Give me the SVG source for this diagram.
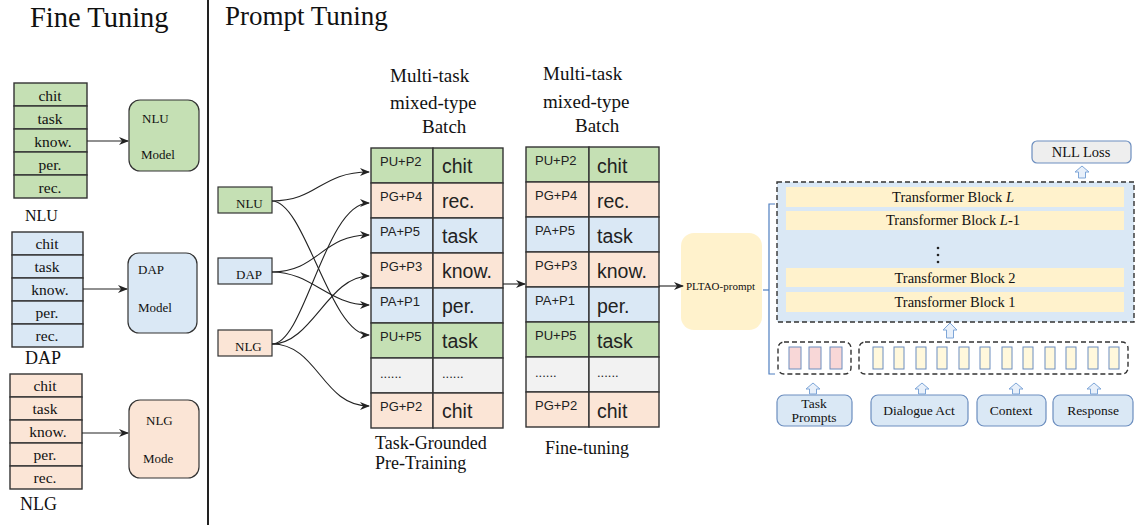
<svg xmlns="http://www.w3.org/2000/svg" width="1135" height="525" viewBox="0 0 1135 525">
<style>
.serif{font-family:"Liberation Serif","Times New Roman",serif;fill:#111}
.sans{font-family:"Liberation Sans",Arial,sans-serif;fill:#222}
.title{font-size:27px}
.lt{font-size:15.5px;text-anchor:middle}
.cell{stroke:#333;stroke-width:1.4}
.g{fill:#c5e0b4}.o{fill:#fbe5d6}.b{fill:#dae8f5}.y{fill:#f2f2f2}
.model{stroke:#333;stroke-width:1.2}
.conn{fill:none;stroke:#222;stroke-width:1.1}
.tb{fill:#fff2cc}
.tbt{font-size:14.5px;text-anchor:middle}
.ua{fill:#e8f0fa;stroke:#7ea6d8;stroke-width:1}
.inbox{fill:#dae8f5;stroke:#6c8ebf;stroke-width:1.2}
.tok1{fill:#f8d7d7;stroke:#6c8ebf;stroke-width:1}
.tok2{fill:#fff8dc;stroke:#6c8ebf;stroke-width:1}
.dash{fill:none;stroke:#333;stroke-width:1.4;stroke-dasharray:5,3}
.lc{font-size:13px}
.rc{font-size:19.5px}
.ib{font-size:13.5px;text-anchor:middle}
</style>
<defs>
<marker id="ah" markerWidth="10" markerHeight="8" refX="9" refY="4" orient="auto" markerUnits="userSpaceOnUse">
<path d="M0,0 L10,4 L0,8 L3,4 z" fill="#222"/>
</marker>
</defs>
<rect width="1135" height="525" fill="#fff"/>
<line x1="208" y1="0" x2="208" y2="525" stroke="#222" stroke-width="2"/>
<text class="serif title" x="30" y="27" font-size="28" style="font-size:28.5px">Fine Tuning</text>
<text class="serif title" x="225" y="25">Prompt Tuning</text>

<!-- Fine tuning NLU -->
<g id="ft-nlu-table">
<rect class="cell g" x="14" y="83" width="73" height="23"/>
<rect class="cell g" x="14" y="106" width="73" height="23"/>
<rect class="cell g" x="14" y="129" width="73" height="23"/>
<rect class="cell g" x="14" y="152" width="73" height="23"/>
<rect class="cell g" x="14" y="175" width="73" height="23"/>
<text class="serif lt" x="50" y="101">chit</text>
<text class="serif lt" x="50" y="124">task</text>
<text class="serif lt" x="53" y="147">know.</text>
<text class="serif lt" x="50" y="170">per.</text>
<text class="serif lt" x="50" y="193">rec.</text>
<text class="serif" x="25" y="221" font-size="16">NLU</text>
</g>
<g id="ft-nlu-model">
<rect class="model g" x="129" y="100" width="70" height="71" rx="11"/>
<text class="serif" x="142" y="123" font-size="13">NLU</text>
<text class="serif" x="141" y="159" font-size="13">Model</text>
</g>
<!-- DAP -->
<g id="ft-dap-table">
<rect class="cell b" x="12" y="232" width="71" height="23"/>
<rect class="cell b" x="12" y="255" width="71" height="23"/>
<rect class="cell b" x="12" y="278" width="71" height="23"/>
<rect class="cell b" x="12" y="301" width="71" height="23"/>
<rect class="cell b" x="12" y="324" width="71" height="23"/>
<text class="serif lt" x="47" y="249">chit</text>
<text class="serif lt" x="47" y="272">task</text>
<text class="serif lt" x="50" y="295">know.</text>
<text class="serif lt" x="47" y="318">per.</text>
<text class="serif lt" x="47" y="341">rec.</text>
<text class="serif" x="25" y="364" font-size="18">DAP</text>
</g>
<g id="ft-dap-model">
<rect class="model b" x="128" y="253" width="69" height="80" rx="11"/>
<text class="serif" x="138" y="274" font-size="13">DAP</text>
<text class="serif" x="138" y="312" font-size="13">Model</text>
</g>
<!-- NLG -->
<g id="ft-nlg-table">
<rect class="cell o" x="10" y="374" width="72" height="23"/>
<rect class="cell o" x="10" y="397" width="72" height="23"/>
<rect class="cell o" x="10" y="420" width="72" height="23"/>
<rect class="cell o" x="10" y="443" width="72" height="23"/>
<rect class="cell o" x="10" y="466" width="72" height="23"/>
<text class="serif lt" x="45" y="391">chit</text>
<text class="serif lt" x="45" y="414">task</text>
<text class="serif lt" x="48" y="437">know.</text>
<text class="serif lt" x="45" y="460">per.</text>
<text class="serif lt" x="45" y="483">rec.</text>
<text class="serif" x="20" y="510" font-size="18">NLG</text>
</g>
<g id="ft-nlg-model">
<rect class="model o" x="129" y="400" width="70" height="78" rx="11"/>
<text class="serif" x="146" y="425" font-size="13">NLG</text>
<text class="serif" x="143" y="463" font-size="13">Mode</text>
</g>

<!-- Prompt tuning sources -->
<g id="src-nlu">
<rect class="model g" x="218" y="187" width="54" height="26"/>
<text class="serif" x="236" y="208" font-size="13">NLU</text>
</g>
<g id="src-dap">
<rect class="model b" x="218" y="258" width="54" height="26"/>
<text class="serif" x="236" y="279" font-size="13">DAP</text>
</g>
<g id="src-nlg">
<rect class="model o" x="218" y="330" width="54" height="26"/>
<text class="serif" x="235" y="351" font-size="13">NLG</text>
</g>

<!-- Table 1 -->
<g id="batch-pretrain">
<text class="serif" x="390" y="82" font-size="19">Multi-task</text>
<text class="serif" x="390" y="109" font-size="19">mixed-type</text>
<text class="serif" x="422" y="133" font-size="19">Batch</text>
<rect class="cell g" x="371" y="148" width="62" height="35"/><rect class="cell g" x="433" y="148" width="70" height="35"/>
<rect class="cell o" x="371" y="183" width="62" height="35"/><rect class="cell o" x="433" y="183" width="70" height="35"/>
<rect class="cell b" x="371" y="218" width="62" height="35"/><rect class="cell b" x="433" y="218" width="70" height="35"/>
<rect class="cell o" x="371" y="253" width="62" height="35"/><rect class="cell o" x="433" y="253" width="70" height="35"/>
<rect class="cell b" x="371" y="288" width="62" height="35"/><rect class="cell b" x="433" y="288" width="70" height="35"/>
<rect class="cell g" x="371" y="323" width="62" height="35"/><rect class="cell g" x="433" y="323" width="70" height="35"/>
<rect class="cell y" x="371" y="358" width="62" height="35"/><rect class="cell y" x="433" y="358" width="70" height="35"/>
<rect class="cell o" x="371" y="393" width="62" height="35"/><rect class="cell o" x="433" y="393" width="70" height="35"/>
<text class="sans lc" x="380" y="166">PU+P2</text><text class="sans rc" x="442" y="173">chit</text>
<text class="sans lc" x="380" y="201">PG+P4</text><text class="sans rc" x="442" y="208">rec.</text>
<text class="sans lc" x="380" y="236">PA+P5</text><text class="sans rc" x="442" y="243">task</text>
<text class="sans lc" x="380" y="271">PG+P3</text><text class="sans rc" x="442" y="278">know.</text>
<text class="sans lc" x="380" y="306">PA+P1</text><text class="sans rc" x="442" y="313">per.</text>
<text class="sans lc" x="380" y="341">PU+P5</text><text class="sans rc" x="442" y="348">task</text>
<text class="sans lc" x="380" y="378">......</text><text class="sans lc" x="442" y="378">......</text>
<text class="sans lc" x="380" y="411">PG+P2</text><text class="sans rc" x="442" y="418">chit</text>
<text class="serif" x="375" y="449" font-size="18">Task-Grounded</text>
<text class="serif" x="375" y="469" font-size="18">Pre-Training</text>
</g>

<!-- Table 2 -->
<g id="batch-finetune">
<text class="serif" x="543" y="80" font-size="19">Multi-task</text>
<text class="serif" x="543" y="108" font-size="19">mixed-type</text>
<text class="serif" x="575" y="132" font-size="19">Batch</text>
<rect class="cell g" x="526" y="147" width="63" height="35"/><rect class="cell g" x="589" y="147" width="70" height="35"/>
<rect class="cell o" x="526" y="182" width="63" height="35"/><rect class="cell o" x="589" y="182" width="70" height="35"/>
<rect class="cell b" x="526" y="217" width="63" height="35"/><rect class="cell b" x="589" y="217" width="70" height="35"/>
<rect class="cell o" x="526" y="252" width="63" height="35"/><rect class="cell o" x="589" y="252" width="70" height="35"/>
<rect class="cell b" x="526" y="287" width="63" height="35"/><rect class="cell b" x="589" y="287" width="70" height="35"/>
<rect class="cell g" x="526" y="322" width="63" height="35"/><rect class="cell g" x="589" y="322" width="70" height="35"/>
<rect class="cell y" x="526" y="357" width="63" height="35"/><rect class="cell y" x="589" y="357" width="70" height="35"/>
<rect class="cell o" x="526" y="392" width="63" height="35"/><rect class="cell o" x="589" y="392" width="70" height="35"/>
<text class="sans lc" x="535" y="165">PU+P2</text><text class="sans rc" x="597" y="173">chit</text>
<text class="sans lc" x="535" y="200">PG+P4</text><text class="sans rc" x="597" y="208">rec.</text>
<text class="sans lc" x="535" y="235">PA+P5</text><text class="sans rc" x="597" y="243">task</text>
<text class="sans lc" x="535" y="270">PG+P3</text><text class="sans rc" x="597" y="278">know.</text>
<text class="sans lc" x="535" y="305">PA+P1</text><text class="sans rc" x="597" y="313">per.</text>
<text class="sans lc" x="535" y="340">PU+P5</text><text class="sans rc" x="597" y="348">task</text>
<text class="sans lc" x="535" y="377">......</text><text class="sans lc" x="597" y="377">......</text>
<text class="sans lc" x="535" y="410">PG+P2</text><text class="sans rc" x="597" y="418">chit</text>
<text class="serif" x="545" y="454" font-size="18">Fine-tuning</text>
</g>

<g id="pltao">
<rect x="681" y="233" width="81" height="97" rx="13" fill="#fff2cc"/>
<text class="serif" x="686" y="290" font-size="11">PLTAO-prompt</text>
</g>

<!-- Model on right -->
<g id="bracket">
<path d="M775,204 L769,204 L769,374 L775,374" fill="none" stroke="#4f7fc0" stroke-width="1.2"/>
<line x1="763" y1="290" x2="769" y2="290" stroke="#4f7fc0" stroke-width="1.2"/>
</g>
<g id="transformer">
<rect x="777" y="182" width="357" height="140" fill="#dae8f5"/>
<rect class="dash" x="777" y="182" width="357" height="140"/>
<rect class="tb" x="786" y="187" width="338" height="20"/>
<rect class="tb" x="786" y="211" width="338" height="19"/>
<rect class="tb" x="786" y="268" width="338" height="19"/>
<rect class="tb" x="786" y="292" width="338" height="20"/>
<text class="serif tbt" x="953" y="202">Transformer Block <tspan font-style="italic">L</tspan></text>
<text class="serif tbt" x="953" y="225">Transformer Block <tspan font-style="italic">L</tspan>-1</text>
<circle cx="938" cy="248" r="1.3" fill="#222"/>
<circle cx="938" cy="255" r="1.3" fill="#222"/>
<circle cx="938" cy="262" r="1.3" fill="#222"/>
<text class="serif tbt" x="955" y="283">Transformer Block 2</text>
<text class="serif tbt" x="955" y="307">Transformer Block 1</text>
</g>
<g id="nll-loss">
<rect x="1032" y="141" width="99" height="22" rx="5" fill="#eeeeee" stroke="#6c8ebf" stroke-width="1.2"/>
<text class="serif" x="1081" y="157" font-size="14.5" text-anchor="middle">NLL Loss</text>
</g>
<g id="prompt-tokens">
<rect class="dash" x="778" y="342" width="73" height="32" rx="6"/>
<rect class="tok1" x="789" y="347" width="12" height="22"/>
<rect class="tok1" x="809" y="347" width="12" height="22"/>
<rect class="tok1" x="830" y="347" width="12" height="22"/>
</g>
<g id="input-tokens">
<rect class="dash" x="859" y="342" width="269" height="32" rx="6"/>
<rect class="tok2" x="873" y="347" width="10" height="22"/>
<rect class="tok2" x="894" y="347" width="10" height="22"/>
<rect class="tok2" x="916" y="347" width="10" height="22"/>
<rect class="tok2" x="937" y="347" width="10" height="22"/>
<rect class="tok2" x="959" y="347" width="10" height="22"/>
<rect class="tok2" x="980" y="347" width="10" height="22"/>
<rect class="tok2" x="1002" y="347" width="10" height="22"/>
<rect class="tok2" x="1023" y="347" width="10" height="22"/>
<rect class="tok2" x="1045" y="347" width="10" height="22"/>
<rect class="tok2" x="1066" y="347" width="10" height="22"/>
<rect class="tok2" x="1088" y="347" width="10" height="22"/>
<rect class="tok2" x="1109" y="347" width="10" height="22"/>
</g>
<g id="in-task-prompts">
<rect class="inbox" x="777" y="395" width="75" height="31" rx="7"/>
<text class="serif ib" x="814" y="408">Task</text>
<text class="serif ib" x="814" y="422">Prompts</text>
</g>
<g id="in-dialogue-act">
<rect class="inbox" x="871" y="395" width="97" height="31" rx="7"/>
<text class="serif ib" x="919" y="415">Dialogue Act</text>
</g>
<g id="in-context">
<rect class="inbox" x="977" y="395" width="69" height="31" rx="7"/>
<text class="serif ib" x="1011" y="415">Context</text>
</g>
<g id="in-response">
<rect class="inbox" x="1053" y="395" width="80" height="31" rx="7"/>
<text class="serif ib" x="1093" y="415">Response</text>
</g>

<g id="connectors">
<line class="conn" x1="87" y1="141" x2="128" y2="141" marker-end="url(#ah)"/>
<line class="conn" x1="83" y1="289" x2="127" y2="289" marker-end="url(#ah)"/>
<line class="conn" x1="82" y1="433" x2="128" y2="433" marker-end="url(#ah)"/>
<path class="conn" d="M272,201 C318,201 320,172 369,172" marker-end="url(#ah)"/>
<path class="conn" d="M272,201 C305,201 330,335 369,335" marker-end="url(#ah)"/>
<path class="conn" d="M272,272 C318,272 322,235 369,235" marker-end="url(#ah)"/>
<path class="conn" d="M272,272 C312,272 328,305 369,305" marker-end="url(#ah)"/>
<path class="conn" d="M272,344 C305,344 325,203 369,203" marker-end="url(#ah)"/>
<path class="conn" d="M272,344 C312,344 328,276 369,276" marker-end="url(#ah)"/>
<path class="conn" d="M272,344 C318,344 322,406 369,406" marker-end="url(#ah)"/>
<line class="conn" x1="503" y1="284" x2="525" y2="284" marker-end="url(#ah)"/>
<line class="conn" x1="659" y1="286" x2="683" y2="286" marker-end="url(#ah)"/>
<polygon class="ua" points="1082,166 1089,172 1085.5,172 1085.5,178 1078.5,178 1078.5,172 1075,172"/>
<polygon class="ua" points="950,323 957,330 953.5,330 953.5,338 946.5,338 946.5,330 943,330"/>
<polygon class="ua" points="813,383 820,389 816.5,389 816.5,394 809.5,394 809.5,389 806,389"/>
<polygon class="ua" points="922,383 929,389 925.5,389 925.5,394 918.5,394 918.5,389 915,389"/>
<polygon class="ua" points="1016,383 1023,389 1019.5,389 1019.5,394 1012.5,394 1012.5,389 1009,389"/>
<polygon class="ua" points="1094,383 1101,389 1097.5,389 1097.5,394 1090.5,394 1090.5,389 1087,389"/>
</g>
</svg>
